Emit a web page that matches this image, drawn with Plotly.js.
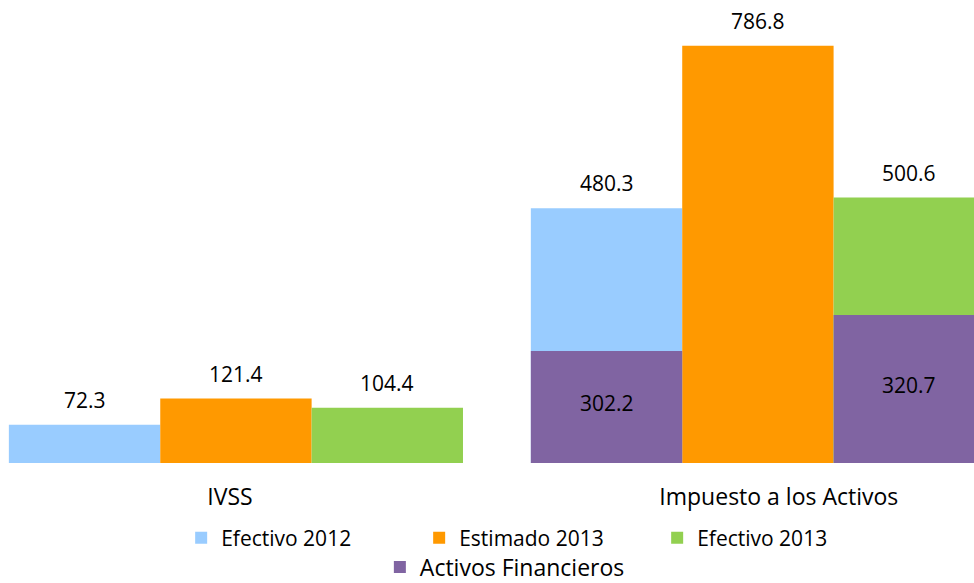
<!DOCTYPE html>
<html><head><meta charset="utf-8">
<script src="https://cdn.plot.ly/plotly-3.0.1.min.js"></script>
<style>html,body{margin:0;padding:0;background:#fff}</style>
</head><body><div id="chart" style="width:974px;height:583px"></div>
<script>
// ---- data ----
const categories = ['IVSS', 'Impuesto a los Activos'];
const efectivo2012 = [72.3, 480.3];
const estimado2013 = [121.4, 786.8];
const efectivo2013 = [104.4, 500.6];
const activosCategories = ['Impuesto a los Activos', 'Impuesto a los Activos'];
const activosFinancieros = [302.2, 320.7];
const seriesNames = ['Efectivo 2012', 'Estimado 2013', 'Efectivo 2013', 'Activos Financieros'];
const tickLabels = ['IVSS', 'Impuesto a los Activos'];

// ---- styles ----
const colors = ['#99CCFF', '#FF9900', '#92D050', '#8064A2'];
const BAR_W = 0.29;
const offsets = [-0.435, -0.145, 0.145];
const Y2_RANGE = [244.6, 482.6];
const NB = '\u00A0';
const tickPad = [{pre: 0, post: 2}, {pre: 7, post: 0}];

const mainSeries = [efectivo2012, estimado2013, efectivo2013];
const traces = mainSeries.map((vals, i) => ({
  type: 'bar', name: seriesNames[i], x: categories, y: vals,
  width: BAR_W, offset: offsets[i],
  marker: {color: colors[i], line: {width: 0}},
  legend: 'legend', hoverinfo: 'none'
}));
traces.push({
  type: 'bar', name: seriesNames[3], x: activosCategories, y: activosFinancieros,
  yaxis: 'y2', width: BAR_W, offset: [offsets[0], offsets[2]],
  marker: {color: colors[3], line: {width: 0}},
  legend: 'legend2', hoverinfo: 'none'
});

const annotations = [];
mainSeries.forEach((vals, i) => {
  vals.forEach((v, j) => {
    annotations.push({
      x: j + offsets[i] + BAR_W / 2, y: v, xref: 'x', yref: 'y',
      text: v.toFixed(1), showarrow: false, yanchor: 'middle', yshift: 25,
      font: {size: 21, color: '#000'}
    });
  });
});
const activosOffsets = [offsets[0], offsets[2]];
activosFinancieros.forEach((v, k) => {
  const j = categories.indexOf(activosCategories[k]);
  annotations.push({
    x: j + activosOffsets[k] + BAR_W / 2, y: (v + Y2_RANGE[0]) / 2, xref: 'x', yref: 'y2',
    text: v.toFixed(1), showarrow: false, yanchor: 'middle', yshift: 4,
    font: {size: 21, color: '#000'}
  });
});

const ticktext = tickLabels.map((t, i) => NB.repeat(tickPad[i].pre) + t + NB.repeat(tickPad[i].post));

const layout = {
  width: 974, height: 583,
  margin: {l: 0, r: 0, t: 0, b: 120},
  paper_bgcolor: '#ffffff', plot_bgcolor: '#ffffff',
  barmode: 'overlay',
  font: {family: '"Open Sans", sans-serif', color: '#000'},
  xaxis: {
    type: 'category', range: [-0.452, 1.414], tickvals: categories, ticktext: ticktext,
    showline: false, showgrid: false, zeroline: false, ticks: '',
    tickfont: {size: 23, color: '#000'}, ticklabelstandoff: 18, fixedrange: true
  },
  yaxis: {range: [0, 873], visible: false, fixedrange: true},
  yaxis2: {range: Y2_RANGE, overlaying: 'y', visible: false, fixedrange: true},
  legend: {
    orientation: 'h', xref: 'paper', x: 0.186, xanchor: 'left',
    yref: 'container', y: 1 - 538 / 583, yanchor: 'middle',
    entrywidth: 193, font: {size: 21, color: '#000'}, bgcolor: 'rgba(0,0,0,0)'
  },
  legend2: {
    orientation: 'h', xref: 'paper', x: 0.39, xanchor: 'left',
    yref: 'container', y: 1 - 567 / 583, yanchor: 'middle',
    font: {size: 23, color: '#000'}, bgcolor: 'rgba(0,0,0,0)'
  },
  annotations: annotations,
  hovermode: false
};

Plotly.newPlot('chart', traces, layout, {staticPlot: true, displayModeBar: false});
</script>
</body></html>
